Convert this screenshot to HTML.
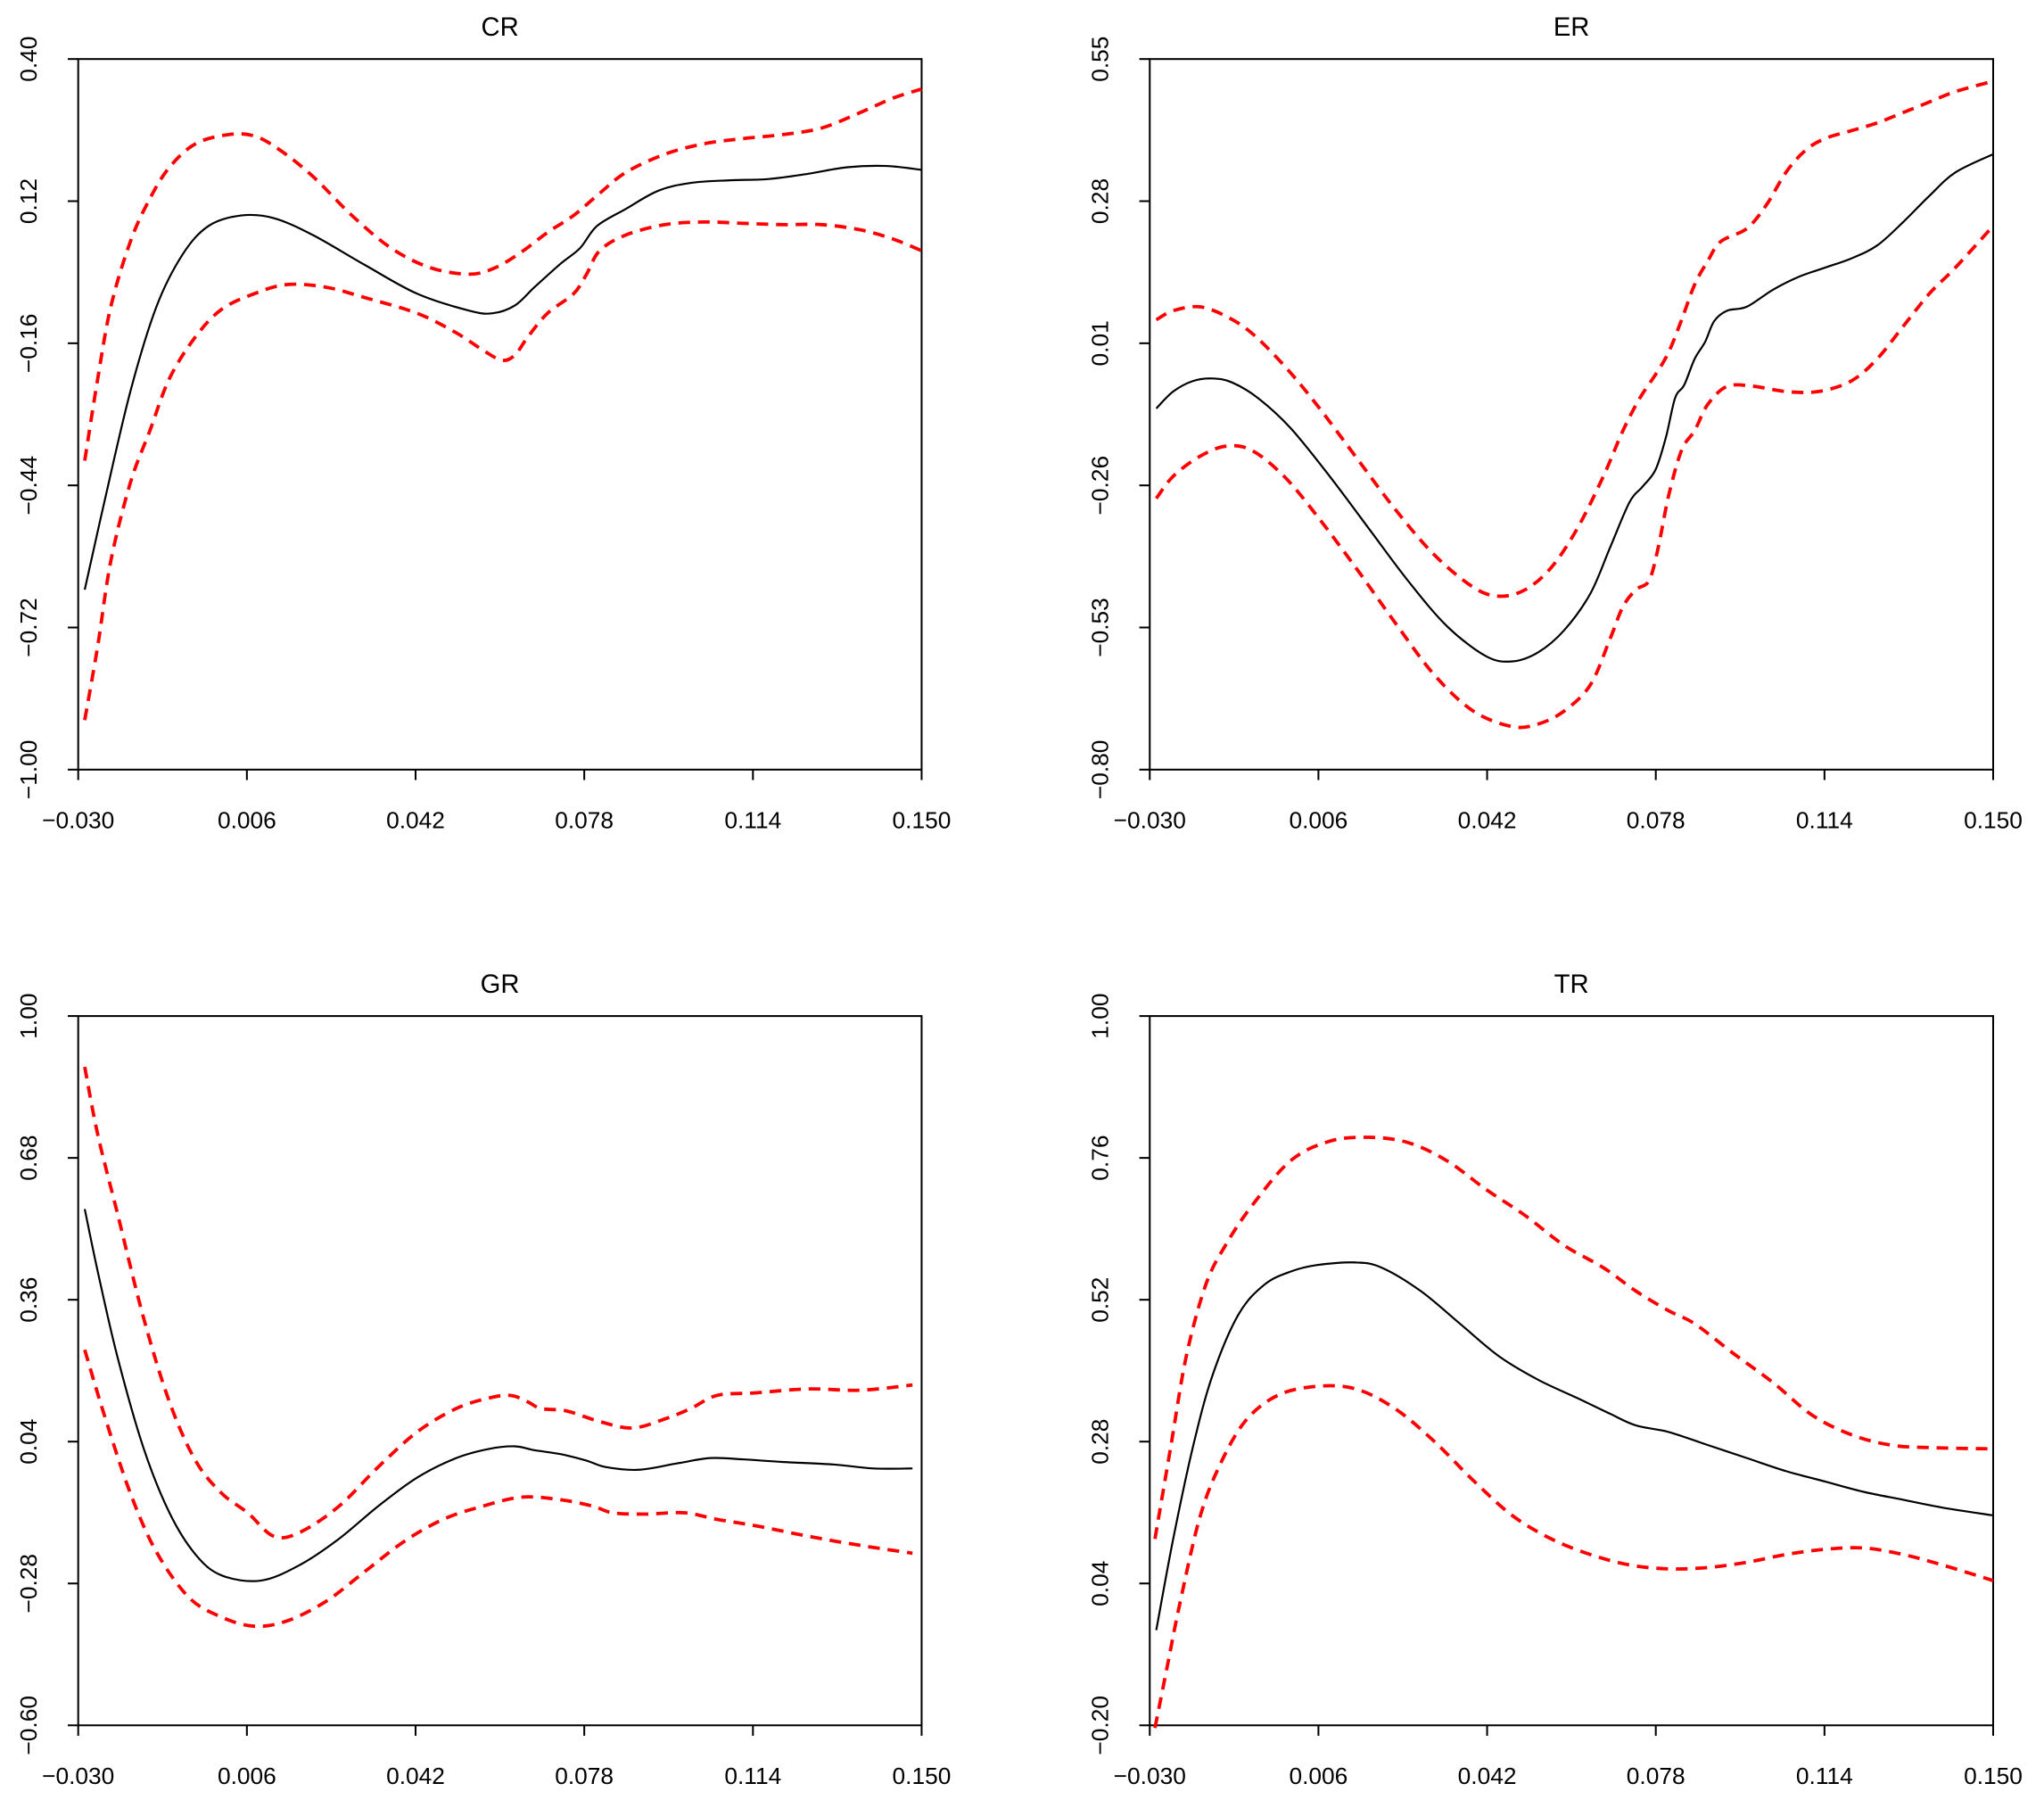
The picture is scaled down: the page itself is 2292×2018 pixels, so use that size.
<!DOCTYPE html>
<html><head><meta charset="utf-8"><style>
html,body{margin:0;padding:0;background:#fff;}
svg{display:block;}
text{font-family:"Liberation Sans",sans-serif;fill:#000;}
</style></head><body>
<svg id="s" width="2292" height="2018" viewBox="0 0 1568 1380" xmlns="http://www.w3.org/2000/svg">
<rect width="1568" height="1380" fill="#fff"/>
</svg>
<script>
var s=document.getElementById('s'),NS='http://www.w3.org/2000/svg';
function el(t,a,txt){var e=document.createElementNS(NS,t);for(var k in a)e.setAttribute(k,a[k]);if(txt!==undefined)e.textContent=txt;s.appendChild(e);return e;}
function panel(L,R,T,B,title,ylabs){
 el('rect',{x:L,y:T,width:R-L,height:B-T,fill:'none',stroke:'#000','stroke-width':1.4});
 el('text',{x:(L+R)/2,y:T-18,'font-size':20,'text-anchor':'middle'},title);
 var xl=['\u22120.030','0.006','0.042','0.078','0.114','0.150'];
 for(var i=0;i<6;i++){var x=L+(R-L)*i/5;el('line',{x1:x,y1:B,x2:x,y2:B+8,stroke:'#000','stroke-width':1.4});
  el('text',{x:x,y:B+45,'font-size':18,'text-anchor':'middle'},xl[i]);}
 for(var j=0;j<6;j++){var y=B-(B-T)*j/5;el('line',{x1:L,y1:y,x2:L-8,y2:y,stroke:'#000','stroke-width':1.4});
  var tx=L-32;el('text',{x:tx,y:y,'font-size':18,'text-anchor':'middle',transform:'rotate(-90 '+tx+' '+y+')'},ylabs[j]);}
}
function line(pts,red){
 var p=pts.split(' ').map(function(q){return q.split(',').map(Number);});
 var d='M'+p[0][0]+','+p[0][1];
 for(var i=0;i<p.length-1;i++){var p0=p[i-1]||p[i],p1=p[i],p2=p[i+1],p3=p[i+2]||p2;
  var c1=[p1[0]+(p2[0]-p0[0])/6,p1[1]+(p2[1]-p0[1])/6],c2=[p2[0]-(p3[0]-p1[0])/6,p2[1]-(p3[1]-p1[1])/6];
  d+=' C'+c1[0].toFixed(2)+','+c1[1].toFixed(2)+' '+c2[0].toFixed(2)+','+c2[1].toFixed(2)+' '+p2[0]+','+p2[1];}
 var a={d:d,fill:'none','stroke-linejoin':'round'};
 if(red){a.stroke='#ff0000';a['stroke-width']=2.6;a['stroke-dasharray']='9,6';}else{a.stroke='#000';a['stroke-width']=1.5;}
 el('path',a);}
panel(60,707,45,590,'CR',['\u22121.00','\u22120.72','\u22120.44','\u22120.16','0.12','0.40']);
panel(882,1529,45,590,'ER',['\u22120.80','\u22120.53','\u22120.26','0.01','0.28','0.55']);
panel(60,707,779,1323,'GR',['\u22120.60','\u22120.28','0.04','0.36','0.68','1.00']);
panel(882,1529,779,1323,'TR',['\u22120.20','0.04','0.28','0.52','0.76','1.00']);
line('65,452 80,385 100,300 120,235 140,195 160,173 185,165 210,167 240,180 280,203 320,225 360,238 378,240 395,234 410,220 430,202 445,190 458,173 480,160 505,146 530,140 560,138 590,137 620,133 650,128 680,127 707,130');
line('65,353 75,290 85,235 100,185 115,152 130,128 150,110 175,103 195,104 215,115 240,135 270,165 300,190 330,205 360,210 380,205 400,193 420,178 440,165 460,148 480,132 510,118 540,110 570,106 600,103 630,98 660,86 685,75 707,68',1);
line('65,552 75,495 85,430 100,370 115,330 130,290 150,258 170,237 195,225 220,218 250,220 280,228 320,240 350,255 370,268 385,276 395,272 405,258 420,240 440,225 450,210 460,192 480,180 510,172 540,170 570,171 600,172 630,172 660,176 685,183 707,192',1);
line('887,313 900,300 915,292 930,290 945,293 965,305 990,328 1020,365 1050,405 1080,445 1110,480 1140,503 1160,507 1180,500 1200,483 1220,455 1235,420 1250,385 1260,373 1270,360 1278,335 1285,305 1292,295 1300,275 1308,262 1315,246 1325,238 1340,235 1360,222 1380,212 1400,205 1420,198 1440,188 1460,170 1480,150 1500,132 1529,118');
line('887,245 900,238 920,235 940,242 960,255 985,280 1010,310 1040,350 1070,390 1100,425 1130,450 1150,457 1170,452 1190,435 1210,405 1230,365 1245,330 1258,305 1270,287 1280,270 1290,245 1300,218 1310,200 1320,185 1340,175 1355,157 1370,132 1385,115 1400,106 1420,100 1440,94 1460,86 1480,78 1500,70 1529,62',1);
line('887,382 900,365 920,350 940,342 960,345 985,365 1010,395 1040,435 1070,477 1100,517 1130,545 1160,557 1180,555 1200,545 1220,525 1235,490 1245,465 1255,452 1265,445 1272,420 1280,380 1290,345 1300,330 1310,310 1325,296 1345,296 1370,300 1395,300 1420,292 1440,275 1460,250 1480,225 1500,205 1529,173',1);
line('65,927 75,975 90,1040 110,1110 130,1160 150,1192 170,1208 200,1212 230,1200 260,1180 290,1155 320,1133 350,1118 375,1111 395,1109 410,1112 430,1115 450,1120 465,1125 490,1127 520,1122 545,1118 570,1119 600,1121 640,1123 670,1126 700,1126');
line('65,818 75,870 90,930 110,1010 130,1075 150,1120 170,1145 190,1160 210,1178 230,1175 260,1155 290,1125 320,1098 350,1080 375,1072 392,1070 405,1075 415,1080 435,1082 460,1090 485,1095 510,1088 530,1080 550,1070 580,1068 620,1065 660,1066 700,1062',1);
line('65,1035 80,1085 100,1145 120,1190 145,1225 170,1240 195,1247 220,1243 250,1228 280,1205 310,1182 340,1165 370,1155 400,1148 430,1150 455,1155 470,1160 495,1161 525,1160 550,1165 580,1170 620,1178 660,1185 700,1191',1);
line('887,1250 900,1180 915,1110 930,1055 950,1008 970,985 990,975 1010,970 1040,968 1060,972 1090,990 1120,1015 1150,1040 1180,1058 1210,1072 1235,1084 1255,1093 1280,1098 1310,1108 1340,1118 1370,1128 1400,1136 1430,1144 1460,1150 1490,1156 1529,1162');
line('886,1180 898,1110 910,1040 925,985 940,955 960,925 990,890 1020,875 1050,872 1080,876 1110,890 1140,912 1170,932 1200,955 1230,972 1255,990 1280,1005 1300,1015 1330,1038 1360,1060 1390,1085 1420,1100 1450,1108 1480,1110 1529,1111',1);
line('886,1325 895,1280 905,1230 920,1165 935,1125 955,1090 980,1070 1010,1063 1040,1065 1070,1080 1100,1105 1130,1135 1160,1162 1190,1180 1220,1192 1250,1200 1280,1203 1310,1202 1340,1198 1370,1192 1400,1188 1430,1187 1460,1192 1490,1200 1529,1212',1);
</script>
</body></html>
